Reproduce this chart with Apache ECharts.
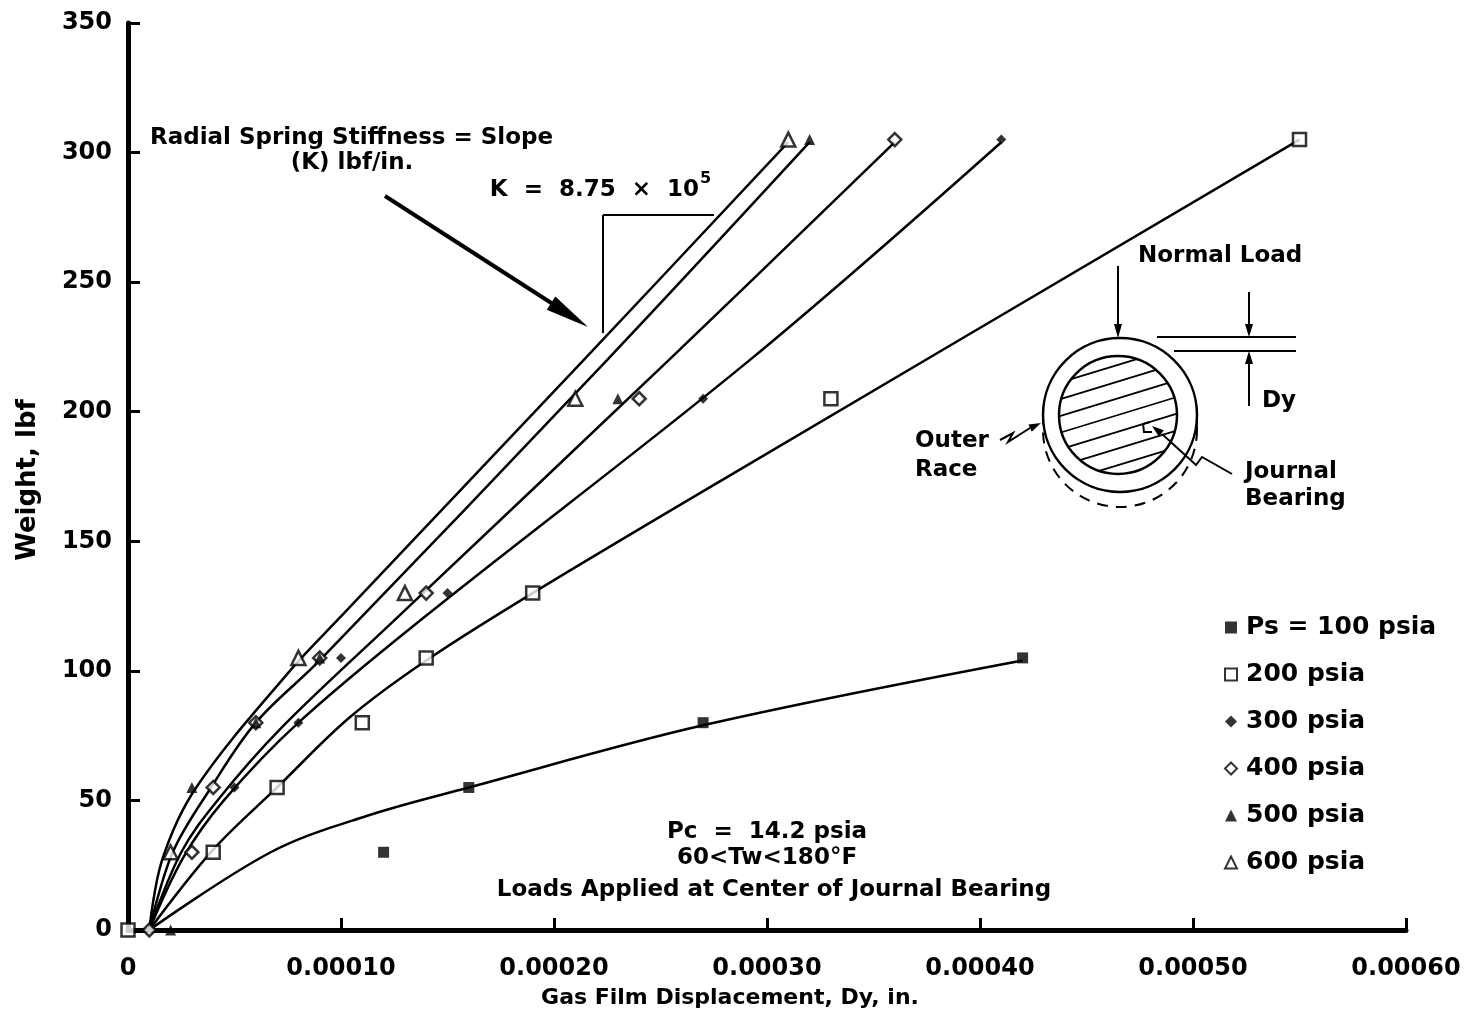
<!DOCTYPE html>
<html lang="en">
<head>
<meta charset="UTF-8">
<title>Gas film displacement vs weight</title>
<style>
  html, body { margin: 0; padding: 0; background: #fff; }
  #main { width: 1466px; height: 1014px; }
</style>
</head>
<body>
<div id="main"></div>
<script src="https://cdn.jsdelivr.net/npm/echarts/dist/echarts.min.js"></script>
<script type="text/javascript">
// measured points [displacement in., weight lbf]
var ps100 = [[0.00012, 30], [0.00016, 55], [0.00027, 80], [0.00042, 105]];
var ps200 = [[0, 0], [0.00004, 30], [0.00007, 55], [0.00011, 80], [0.00014, 105], [0.00019, 130], [0.00033, 205], [0.00055, 305]];
var ps300 = [[0.00005, 55], [0.00008, 80], [0.0001, 105], [0.00015, 130], [0.00027, 205], [0.00041, 305]];
var ps400 = [[0.00001, 0], [0.00003, 30], [0.00004, 55], [0.00006, 80], [0.00009, 105], [0.00014, 130], [0.00024, 205], [0.00036, 305]];
var ps500 = [[0.00002, 0], [0.00003, 55], [0.00006, 80], [0.00009, 105], [0.00023, 205], [0.00032, 305]];
var ps600 = [[0.00002, 30], [0.00008, 105], [0.00013, 130], [0.00021, 205], [0.00031, 305]];

// faired curves as drawn on the plot
var fit100 = [[0.00001, 0], [0.000067, 30], [0.000112, 44], [0.00016, 55], [0.00027, 79], [0.00042, 104]];
var fit200 = [[0.00001, 0], [0.00004, 31], [0.00007, 55], [0.000104, 82], [0.00014, 104], [0.00019, 130], [0.00029, 179], [0.00055, 305]];
var fit300 = [[0.00001, 0], [0.000026, 28], [0.000045, 50], [0.00008, 80], [0.000138, 120], [0.000292, 220], [0.00041, 304]];
var fit400 = [[0.00001, 0], [0.000025, 30], [0.000042, 50], [0.000072, 78], [0.000127, 121], [0.000254, 220], [0.00036, 304]];
var fit500 = [[0.00001, 0], [0.000021, 30], [0.000039, 55], [0.00006, 80], [0.00009, 104], [0.000225, 220], [0.00032, 304]];
var fit600 = [[0.00001, 0], [0.000016, 27], [0.000032, 55], [0.000076, 100], [0.0001, 121], [0.000214, 220], [0.00031, 304]];

var seriesNames = ['Ps = 100 psia', '200 psia', '300 psia', '400 psia', '500 psia', '600 psia'];
var xTickLabels = ['0', '0.00010', '0.00020', '0.00030', '0.00040', '0.00050', '0.00060'];
var yTickLabels = ['0', '50', '100', '150', '200', '250', '300', '350'];

var FONT = 'DejaVu Sans';
var mainChart = echarts.init(document.getElementById('main'));

function lineSeries(data) {
    return {
        type: 'line',
        data: data,
        smooth: 0.35,
        showSymbol: false,
        silent: true,
        lineStyle: {color: '#000', width: 2.5},
        z: 2
    };
}

function markSeries(name, data, symbol, size, open) {
    return {
        name: name,
        type: 'scatter',
        data: data,
        symbol: symbol,
        symbolSize: size,
        itemStyle: open
            ? {color: '#fff', borderColor: '#000', borderWidth: 2.5}
            : {color: '#000', borderColor: '#000', borderWidth: 0},
        z: 3
    };
}

function txt(x, y, s, size, align) {
    return {
        type: 'text', x: x, y: y, silent: true,
        style: {
            text: s, fill: '#000',
            font: 'bold ' + (size || 23) + 'px "' + FONT + '"',
            textAlign: align || 'left', textVerticalAlign: 'middle'
        }
    };
}

function seg(x1, y1, x2, y2, w) {
    return {
        type: 'line', silent: true,
        shape: {x1: x1, y1: y1, x2: x2, y2: y2},
        style: {stroke: '#000', lineWidth: w || 2}
    };
}

function head(tip, from, len, half) {
    var dx = tip[0] - from[0], dy = tip[1] - from[1];
    var d = Math.sqrt(dx * dx + dy * dy);
    var ux = dx / d, uy = dy / d;
    var bx = tip[0] - ux * len, by = tip[1] - uy * len;
    return {
        type: 'polygon', silent: true,
        shape: {points: [tip, [bx - uy * half, by + ux * half], [bx + uy * half, by - ux * half]]},
        style: {fill: '#000'}
    };
}

// bearing sketch: hatch chords inside the journal circle
var jc = [1118, 415], jr = 59;
var hatch = [];
var ang = -17 * Math.PI / 180;
var ux = Math.cos(ang), uy = Math.sin(ang);
[-48, -32, -16, 0, 16, 32, 48].forEach(function (d) {
    var h = Math.sqrt(jr * jr - d * d);
    var cx = jc[0] - uy * d, cy = jc[1] + ux * d;
    hatch.push(seg(cx - ux * h, cy - uy * h, cx + ux * h, cy + uy * h, 1.8));
});

var notes = [
    txt(150, 138, 'Radial Spring Stiffness = Slope'),
    txt(352, 163, '(K) lbf/in.', 23, 'center'),
    seg(385, 196, 556, 306, 4),
    head([588, 327], [385, 196], 44, 8),
    txt(699, 190, 'K  =  8.75  \u00d7  10', 23, 'right'),
    txt(700, 179, '5', 16),
    seg(603, 215, 603, 333, 2),
    seg(603, 215, 714, 215, 2),

    txt(767, 832, 'Pc  =  14.2 psia', 23, 'center'),
    txt(767, 858, '60<Tw<180\u00b0F', 23, 'center'),
    txt(774, 890, 'Loads Applied at Center of Journal Bearing', 23, 'center'),

    {
        type: 'text', x: 28, y: 480, rotation: Math.PI / 2, silent: true,
        style: {text: 'Weight, lbf', fill: '#000', font: 'bold 26px "' + FONT + '"',
            textAlign: 'center', textVerticalAlign: 'middle'}
    },
    txt(730, 998, 'Gas Film Displacement, Dy, in.', 22, 'center'),

    // bearing sketch
    {type: 'circle', silent: true, shape: {cx: 1120, cy: 430, r: 77},
        style: {fill: 'none', stroke: '#000', lineWidth: 2, lineDash: [11, 8]}},
    {type: 'circle', silent: true, shape: {cx: 1120, cy: 415, r: 77},
        style: {fill: '#fff', stroke: '#000', lineWidth: 2.5}},
    {type: 'circle', silent: true, shape: {cx: jc[0], cy: jc[1], r: jr},
        style: {fill: 'none', stroke: '#000', lineWidth: 2.5}}
].concat(hatch).concat([
    seg(1118, 266, 1118, 326, 2),
    head([1118, 338], [1118, 266], 14, 4),
    txt(1138, 256, 'Normal Load'),
    seg(1157, 337, 1296, 337, 2),
    seg(1174, 351, 1296, 351, 2),
    seg(1249, 292, 1249, 326, 2),
    head([1249, 337], [1249, 292], 13, 4),
    seg(1249, 406, 1249, 362, 2),
    head([1249, 351], [1249, 406], 13, 4),
    txt(1262, 401, 'Dy'),
    txt(915, 441, 'Outer'),
    txt(915, 470, 'Race'),
    {type: 'polyline', silent: true,
        shape: {points: [[1000, 440], [1013, 433], [1008, 442], [1030, 428]]},
        style: {stroke: '#000', lineWidth: 2, fill: 'none'}},
    head([1041, 423], [1028, 429], 12, 4),
    txt(1245, 472, 'Journal'),
    txt(1245, 499, 'Bearing'),
    {type: 'polyline', silent: true,
        shape: {points: [[1232, 474], [1202, 457], [1196, 465], [1162, 434]]},
        style: {stroke: '#000', lineWidth: 2, fill: 'none'}},
    head([1152, 426], [1162, 434], 12, 4),
    {type: 'polyline', silent: true,
        shape: {points: [[1150, 422], [1143, 424], [1144, 432], [1152, 432]]},
        style: {stroke: '#000', lineWidth: 2, fill: 'none'}}
]);

var option = {
    backgroundColor: '#fff',
    animation: false,
    grid: {left: 128, right: 60, top: 23, bottom: 84, containLabel: false},
    legend: {
        orient: 'vertical',
        left: 1219,
        top: 608,
        itemWidth: 12,
        itemHeight: 12,
        itemGap: 18,
        data: seriesNames,
        textStyle: {color: '#000', fontFamily: FONT, fontWeight: 'bold', fontSize: 25, lineHeight: 29, padding: [0, 0, 0, 4]}
    },
    xAxis: {
        type: 'value',
        min: 0, max: 0.0006, interval: 0.0001,
        axisLine: {onZero: false, lineStyle: {color: '#000', width: 5}},
        axisTick: {inside: true, length: 12, lineStyle: {color: '#000', width: 3}},
        splitLine: {show: false},
        axisLabel: {
            margin: 27,
            color: '#000', fontFamily: FONT, fontWeight: 'bold', fontSize: 24,
            formatter: function (v) { return xTickLabels[Math.round(v / 0.0001)]; }
        }
    },
    yAxis: {
        type: 'value',
        min: 0, max: 350, interval: 50,
        axisLine: {show: true, onZero: false, lineStyle: {color: '#000', width: 5}},
        axisTick: {show: true, inside: true, length: 12, lineStyle: {color: '#000', width: 3}},
        splitLine: {show: false},
        axisLabel: {
            margin: 16,
            color: '#000', fontFamily: FONT, fontWeight: 'bold', fontSize: 24,
            formatter: function (v) { return yTickLabels[Math.round(v / 50)]; }
        }
    },
    graphic: notes,
    series: [
        lineSeries(fit100), lineSeries(fit200), lineSeries(fit300),
        lineSeries(fit400), lineSeries(fit500), lineSeries(fit600),
        markSeries(seriesNames[0], ps100, 'rect', 11, false),
        markSeries(seriesNames[1], ps200, 'rect', 13, true),
        markSeries(seriesNames[2], ps300, 'diamond', 10, false),
        markSeries(seriesNames[3], ps400, 'diamond', 13, true),
        markSeries(seriesNames[4], ps500, 'triangle', 11, false),
        markSeries(seriesNames[5], ps600, 'triangle', 14, true)
    ]
};
mainChart.setOption(option);
</script>
</body>
</html>
